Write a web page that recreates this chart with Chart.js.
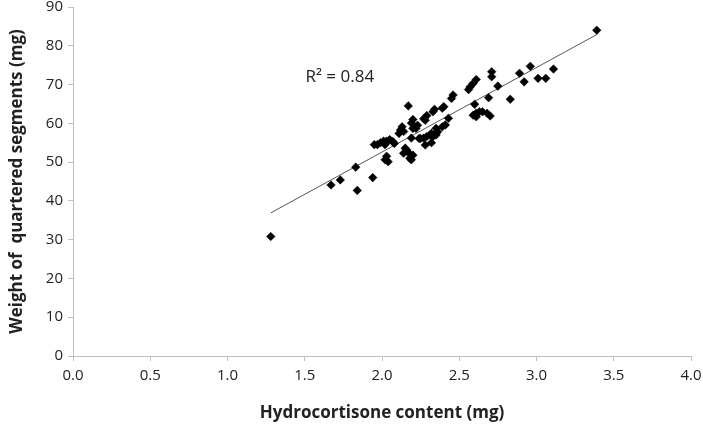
<!DOCTYPE html>
<html>
<head>
<meta charset="utf-8">
<script src="https://cdn.jsdelivr.net/npm/chart.js@4"></script>
<style>
  html, body { margin:0; padding:0; background:#fff; }
  #wrap { width:703px; height:427px; }
</style>
</head>
<body>
<div id="wrap"><canvas id="scatterChart" width="703" height="427"></canvas></div>
<script>
// hydrocortisone content (mg) vs weight of quartered segments (mg)
const hydrocortisone = [
  1.28, 1.67, 1.73, 1.83, 1.84, 1.94, 1.95, 1.97, 1.99, 2.01,
  2.02, 2.03, 2.05, 2.07, 2.02, 2.03, 2.04, 2.11, 2.12, 2.13,
  2.14, 2.17, 2.20, 2.19, 2.20, 2.19, 2.15, 2.16, 2.14, 2.17,
  2.18, 2.19, 2.20, 2.24, 2.22, 2.27, 2.28, 2.29, 2.25, 2.27,
  2.29, 2.31, 2.32, 2.28, 2.32, 2.33, 2.35, 2.36, 2.35, 2.39,
  2.41, 2.43, 2.33, 2.34, 2.39, 2.40, 2.45, 2.46, 2.56, 2.57,
  2.59, 2.61, 2.60, 2.59, 2.61, 2.61, 2.63, 2.65, 2.68, 2.70,
  2.69, 2.71, 2.71, 2.75, 2.83, 2.89, 2.92, 2.96, 3.01, 3.06,
  3.11, 3.39, 2.08, 2.23
]
const weight = [
  30.8, 44.1, 45.4, 48.7, 42.7, 46.0, 54.5, 54.5, 55.0, 55.4,
  54.5, 55.4, 55.8, 55.3, 50.6, 51.5, 50.1, 57.4, 58.3, 59.1,
  57.9, 64.5, 61.0, 60.1, 58.7, 56.2, 53.6, 53.1, 52.3, 52.5,
  51.0, 50.6, 51.8, 56.1, 58.7, 61.2, 60.8, 62.0, 56.1, 56.2,
  56.6, 57.0, 57.4, 54.4, 55.0, 56.6, 57.0, 57.8, 58.7, 59.1,
  59.6, 61.3, 63.0, 63.6, 63.9, 64.3, 66.4, 67.3, 68.7, 69.4,
  70.3, 71.3, 64.9, 62.1, 61.7, 62.6, 63.0, 63.0, 62.6, 61.9,
  66.6, 73.3, 72.0, 69.6, 66.2, 72.9, 70.7, 74.7, 71.6, 71.6,
  74.0, 84.0, 54.8, 59.5
]
// linear trendline ends
const trendX = [1.28, 3.39]
const trendY = [36.9, 82.9]
const r2Label = 'R\u00b2 = 0.84'
const r2At = [1.505, 72]

const axisGray = '#bfbfbf'
const textColor = '#222'
const font = '"Open Sans", "Liberation Sans", sans-serif'

const r2Plugin = {
  id: 'r2Label',
  afterDatasetsDraw(chart) {
    const { ctx, scales } = chart
    ctx.save()
    ctx.font = '17px ' + font
    ctx.fillStyle = textColor
    ctx.textBaseline = 'middle'
    ctx.fillText(r2Label, scales.x.getPixelForValue(r2At[0]), scales.y.getPixelForValue(r2At[1]))
    ctx.restore()
  }
}

new Chart(document.getElementById('scatterChart').getContext('2d'), {
  type: 'scatter',
  data: {
    datasets: [
      {
        label: 'data',
        data: hydrocortisone.map((x, i) => ({ x, y: weight[i] })),
        pointStyle: 'rectRot',
        pointRadius: 4.3,
        backgroundColor: '#000',
        borderColor: '#000',
        borderWidth: 0.5
      },
      {
        label: 'trend',
        type: 'line',
        data: trendX.map((x, i) => ({ x, y: trendY[i] })),
        borderColor: '#555',
        borderWidth: 1,
        pointRadius: 0,
        fill: false
      }
    ]
  },
  options: {
    responsive: false,
    animation: false,
    layout: { padding: 0 },
    plugins: { legend: { display: false }, tooltip: { enabled: false } },
    scales: {
      x: {
        type: 'linear', min: 0, max: 4,
        ticks: { stepSize: 0.5, color: textColor, font: { family: font, size: 15 }, padding: 6,
                 callback: v => v.toFixed(1) },
        grid: { drawOnChartArea: false, drawTicks: true, tickLength: 5, color: axisGray },
        border: { color: axisGray },
        title: { display: true, text: 'Hydrocortisone content (mg)', color: textColor,
                 font: { family: font, size: 17, weight: 'bold' }, padding: { top: 10 } },
        afterFit: s => { s.height = 71; s.paddingRight = 12 }
      },
      y: {
        min: 0, max: 90,
        ticks: { stepSize: 10, color: textColor, font: { family: font, size: 15 }, padding: 5 },
        grid: { drawOnChartArea: false, drawTicks: true, tickLength: 5, color: axisGray },
        border: { color: axisGray },
        title: { display: true, text: 'Weight of  quartered segments (mg)', color: textColor,
                 font: { family: font, size: 17, weight: 'bold' }, padding: { top: 7, bottom: 0 } },
        afterFit: s => { s.width = 73; s.paddingTop = 7 }
      }
    }
  },
  plugins: [r2Plugin]
})
</script>
</body>
</html>
